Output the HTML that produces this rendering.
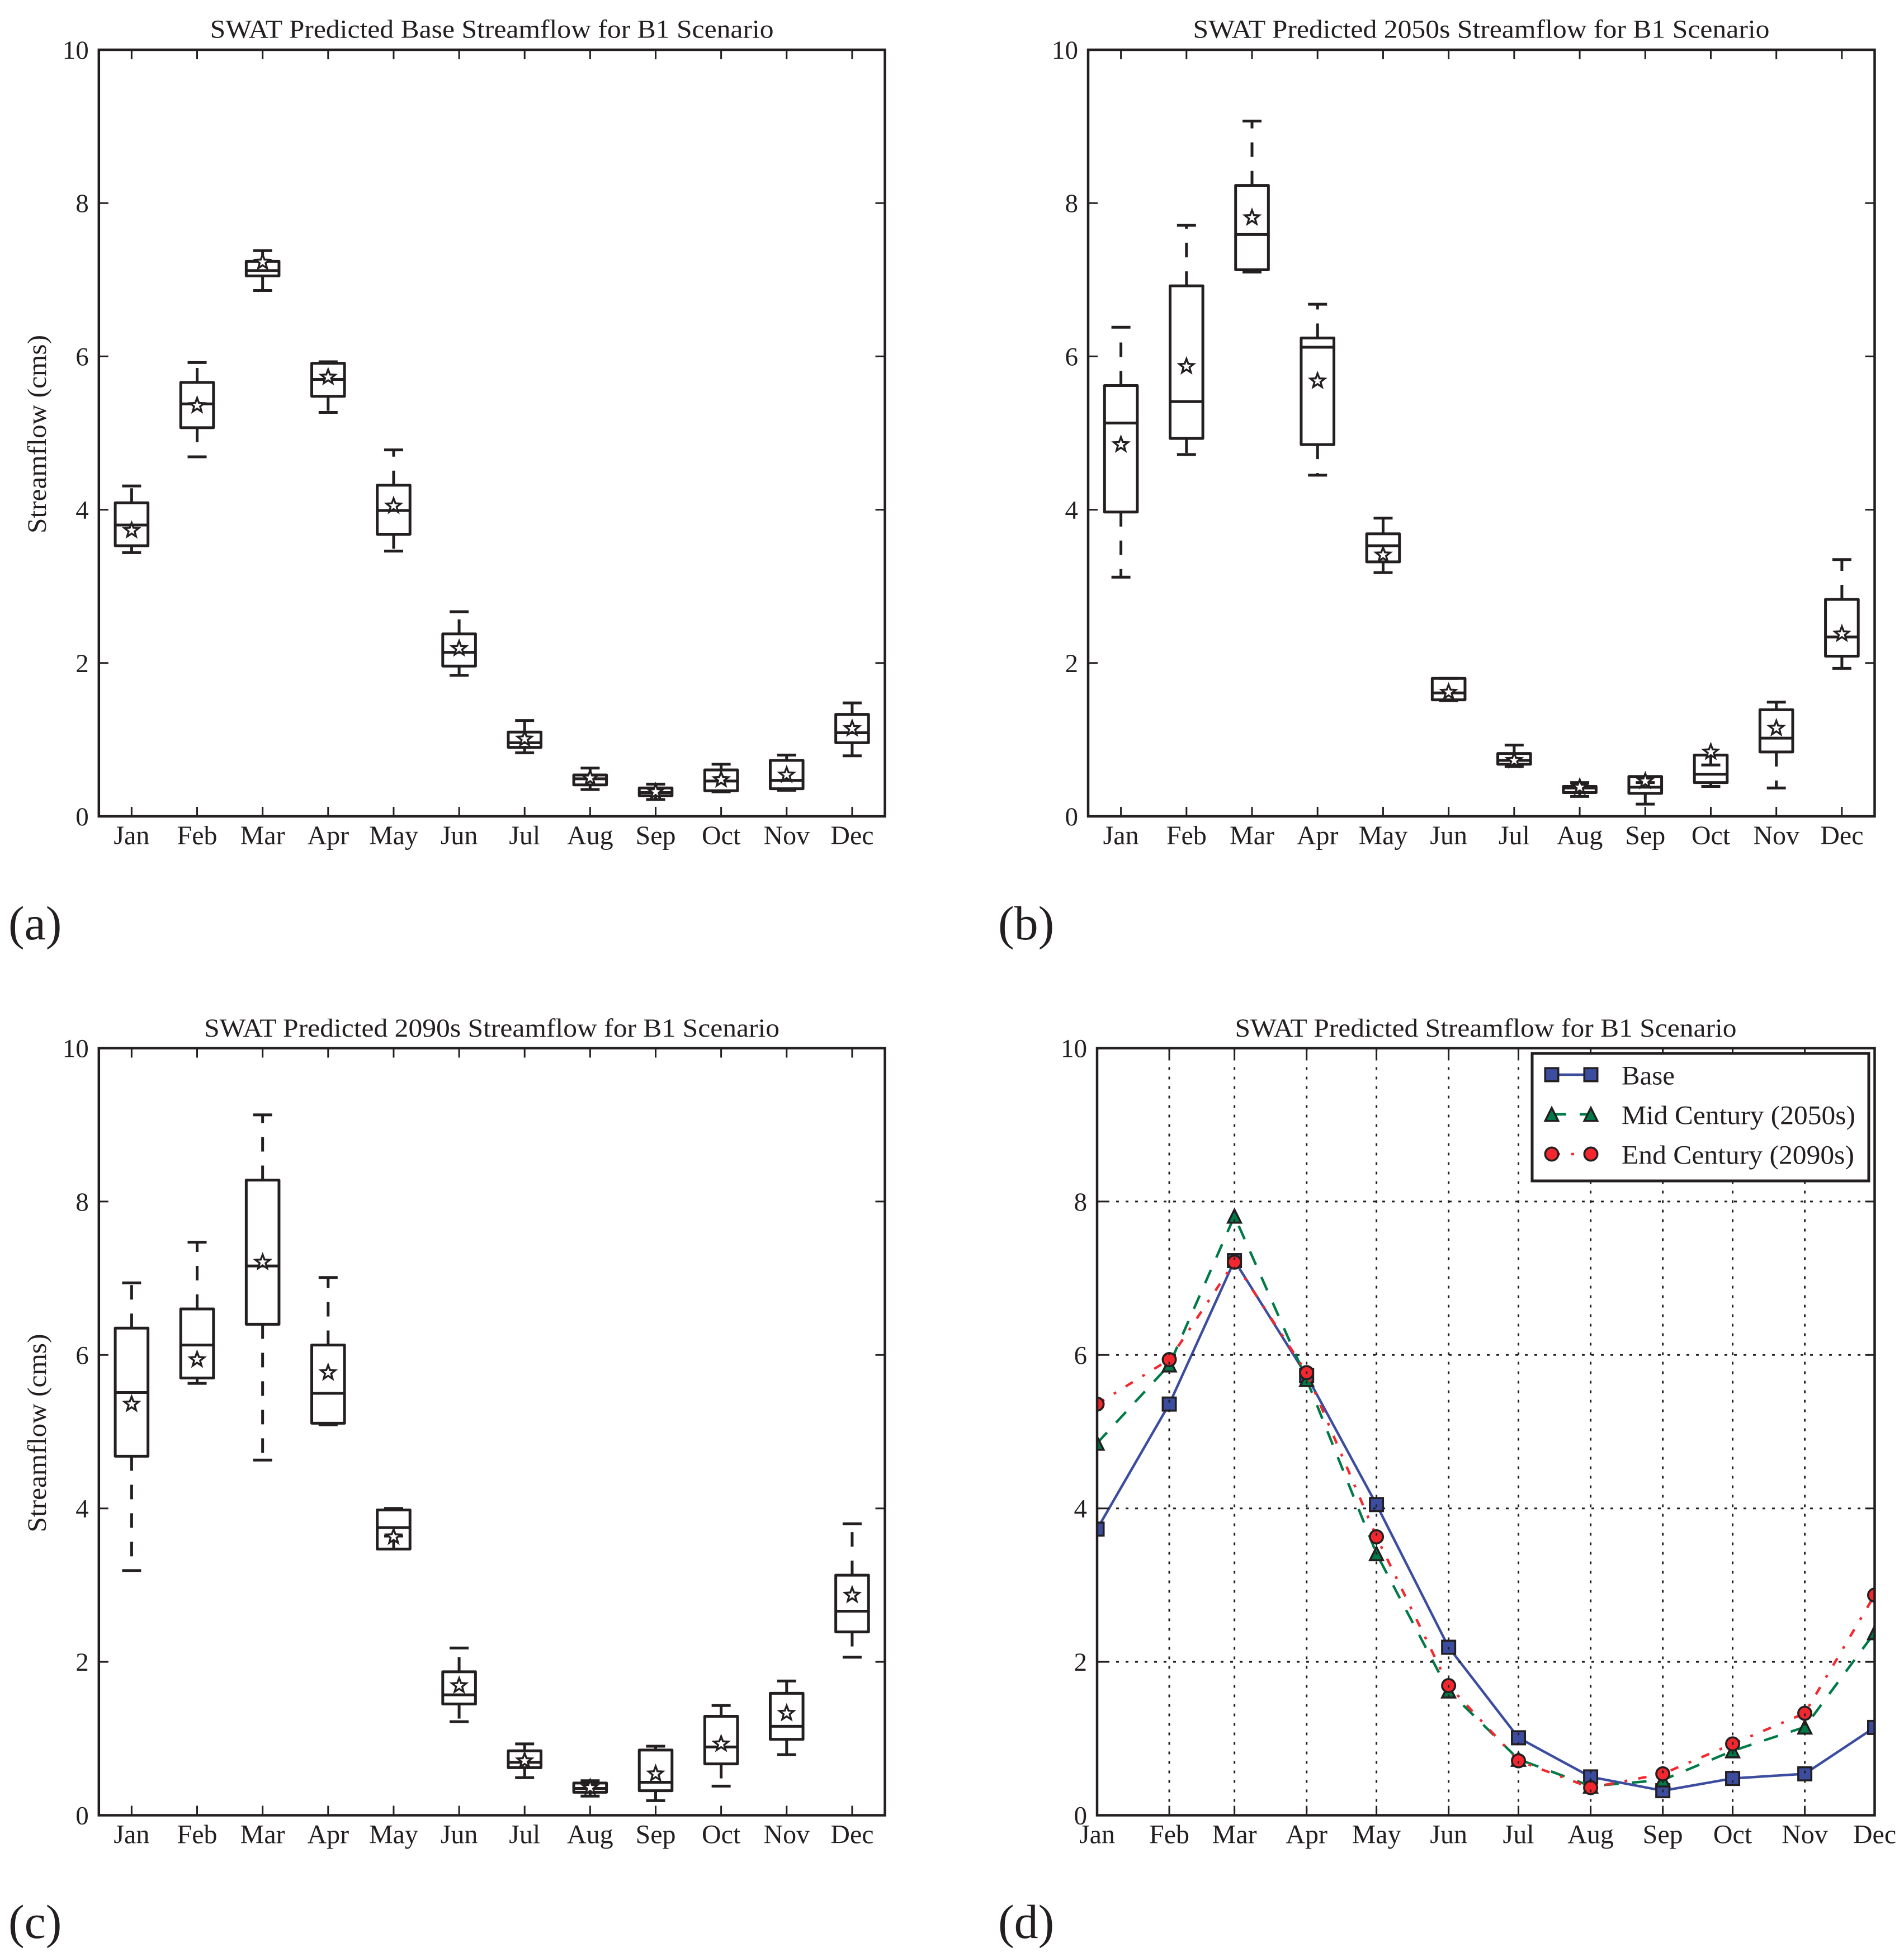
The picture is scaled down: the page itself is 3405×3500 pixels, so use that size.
<!DOCTYPE html>
<html lang="en">
<head>
<meta charset="utf-8">
<title>SWAT Predicted Streamflow for B1 Scenario</title>
<style>
  html, body { margin: 0; padding: 0; background: #fff; }
  svg { display: block; }
  text { font-family: "Liberation Serif", serif; fill: #231f20; }
  .title, .month, .ytick, .ylabel, .leg { font-size: 48px; }
  .ytick { font-size: 47px; text-anchor: end; }
  .month { text-anchor: middle; }
  .title { text-anchor: middle; font-size: 47px; }
  .ylabel { text-anchor: middle; }
  .tag { font-size: 86px; }
</style>
</head>
<body>
<svg id="figure" xmlns="http://www.w3.org/2000/svg" width="3405" height="3500" viewBox="0 0 3405 3500">
  <rect width="3405" height="3500" fill="#fff"/>
  <defs>
    <clipPath id="clip-d"><rect x="1962" y="1874.5" width="1390.5" height="1372"/></clipPath>
  </defs>

  <g id="panel-a">
    <text class="title" x="879.6" y="67.7" textLength="1008" lengthAdjust="spacingAndGlyphs">SWAT Predicted Base Streamflow for B1 Scenario</text>
    <text class="ylabel" transform="translate(82,776.5) rotate(-90)" textLength="355" lengthAdjust="spacingAndGlyphs">Streamflow (cms)</text>
    <text class="tag" x="15" y="1680">(a)</text>
  </g>
  <g id="panel-b">
    <text class="title" x="2649" y="67.7" textLength="1031" lengthAdjust="spacingAndGlyphs">SWAT Predicted 2050s Streamflow for B1 Scenario</text>
    <text class="tag" x="1785" y="1680">(b)</text>
  </g>
  <g id="panel-c">
    <text class="title" x="879.6" y="1854" textLength="1029" lengthAdjust="spacingAndGlyphs">SWAT Predicted 2090s Streamflow for B1 Scenario</text>
    <text class="ylabel" transform="translate(82,2563) rotate(-90)" textLength="355" lengthAdjust="spacingAndGlyphs">Streamflow (cms)</text>
    <text class="tag" x="15" y="3466">(c)</text>
  </g>
  <g id="panel-d">
    <text class="title" x="2657" y="1854" textLength="897" lengthAdjust="spacingAndGlyphs">SWAT Predicted Streamflow for B1 Scenario</text>
    <text class="tag" x="1785" y="3466">(d)</text>
  </g>
</svg>

<script>
// ---------- chart values ----------
const months = ['Jan','Feb','Mar','Apr','May','Jun','Jul','Aug','Sep','Oct','Nov','Dec'];
const yTicks = [0, 2, 4, 6, 8, 10];

// Panel (a) base period
const aLow  = [3.44,4.69,6.86,5.27,3.46,1.84,0.83,0.35,0.22,0.32,0.34,0.79];
const aQ1   = [3.53,5.07,7.05,5.48,3.68,1.96,0.90,0.41,0.27,0.335,0.36,0.96];
const aMed  = [3.80,5.38,7.12,5.70,3.99,2.14,0.96,0.49,0.31,0.46,0.47,1.09];
const aQ3   = [4.09,5.66,7.24,5.91,4.32,2.38,1.10,0.54,0.37,0.605,0.73,1.33];
const aHigh = [4.31,5.92,7.38,5.93,4.78,2.67,1.25,0.63,0.42,0.68,0.80,1.48];
const aMean = [3.73,5.36,7.23,5.73,4.05,2.19,1.01,0.50,0.32,0.48,0.54,1.145];

// Panel (b) 2050s
const bLow  = [3.12,4.72,7.10,4.45,3.18,1.51,0.65,0.26,0.16,0.39,0.37,1.93];
const bQ1   = [3.97,4.93,7.13,4.85,3.32,1.52,0.68,0.31,0.30,0.44,0.84,2.09];
const bMed  = [5.13,5.41,7.59,6.12,3.53,1.61,0.73,0.37,0.38,0.55,1.02,2.34];
const bQ3   = [5.62,6.92,8.23,6.24,3.685,1.80,0.82,0.39,0.52,0.80,1.39,2.83];
const bHigh = [6.38,7.71,9.07,6.68,3.89,1.80,0.93,0.44,0.44,0.67,1.49,3.35];
const bMean = [4.85,5.87,7.81,5.68,3.41,1.62,0.73,0.38,0.46,0.84,1.15,2.38];

// Panel (c) 2090s
const cLow  = [3.19,5.63,4.63,5.09,3.64,1.22,0.49,0.25,0.19,0.38,0.79,2.06];
const cQ1   = [4.68,5.70,6.40,5.11,3.47,1.45,0.62,0.30,0.32,0.67,0.99,2.39];
const cMed  = [5.51,6.13,7.16,5.50,3.75,1.57,0.69,0.35,0.43,0.89,1.16,2.66];
const cQ3   = [6.35,6.60,8.28,6.13,3.98,1.87,0.84,0.42,0.85,1.29,1.59,3.13];
const cHigh = [6.94,7.47,9.13,7.01,4.00,2.18,0.93,0.45,0.90,1.43,1.75,3.80];
const cMean = [5.36,5.94,7.21,5.77,3.63,1.69,0.71,0.36,0.54,0.93,1.33,2.87];

// Panel (d) monthly lines on a day-of-year x axis
const monthDays = [0,31,59,90,120,151,181,212,243,273,304,334];
const baseFlow = [3.73,5.36,7.23,5.73,4.05,2.19,1.01,0.50,0.32,0.48,0.54,1.145];
const midFlow  = [4.85,5.87,7.81,5.68,3.41,1.62,0.73,0.38,0.46,0.84,1.15,2.38];
const endFlow  = [5.36,5.94,7.21,5.77,3.63,1.69,0.71,0.36,0.54,0.93,1.33,2.87];

// Legend text
const legendLabels = ['Base', 'Mid Century (2050s)', 'End Century (2090s)'];

// ---------- helpers ----------
const INK = '#231f20';
const BLUE = '#3c4d9f';
const GREEN = '#007a47';
const RED = '#f4272f';
const NS = 'http://www.w3.org/2000/svg';
const SPINE = 4.5;
const TICK = 15;

function svgEl(tag, attrs, parent) {
  const node = document.createElementNS(NS, tag);
  for (const k in attrs) node.setAttribute(k, attrs[k]);
  parent.appendChild(node);
  return node;
}
function makeY(frame) {
  return v => frame.bottom - v * (frame.bottom - frame.top) / 10;
}
function starPoints(cx, cy, r) {
  const pts = [];
  for (let k = 0; k < 10; k++) {
    const rad = k % 2 ? r * 0.42 : r;
    const ang = -Math.PI / 2 + k * Math.PI / 5;
    pts.push((cx + rad * Math.cos(ang)).toFixed(1) + ',' + (cy + rad * Math.sin(ang)).toFixed(1));
  }
  return pts.join(' ');
}

function drawFrame(parent, frame, xPos, prefix) {
  const y = makeY(frame);
  months.forEach((m, i) => {
    const x = xPos(i);
    const tb = svgEl('line', {x1: x, x2: x, y1: frame.bottom, y2: frame.bottom - TICK - 2, stroke: INK, 'stroke-width': 3}, parent);
    
    
    const tt = svgEl('line', {x1: x, x2: x, y1: frame.top, y2: frame.top + TICK + 2, stroke: INK, 'stroke-width': 3}, parent);
    
    
    const lab = svgEl('text', {class: 'month', x: x, y: frame.bottom + 50}, parent);
    lab.textContent = m;
    
    
  });
  yTicks.forEach(v => {
    const py = y(v);
    const tl = svgEl('line', {x1: frame.left, x2: frame.left + TICK + 2, y1: py, y2: py, stroke: INK, 'stroke-width': 3}, parent);
    
    
    const tr = svgEl('line', {x1: frame.right, x2: frame.right - TICK - 2, y1: py, y2: py, stroke: INK, 'stroke-width': 3}, parent);
    
    
    const lab = svgEl('text', {class: 'ytick', x: frame.left - 18, y: py + 16}, parent);
    lab.textContent = String(v);
    
    
  });
}
function drawSpines(parent, frame, prefix) {
  const r = svgEl('rect', {x: frame.left, y: frame.top, width: frame.right - frame.left, height: frame.bottom - frame.top, fill: 'none', stroke: INK, 'stroke-width': SPINE}, parent);
  
  
}

function drawBoxes(parent, frame, low, q1, med, q3, high, mean, prefix) {
  const y = makeY(frame);
  const step = (frame.right - frame.left) / months.length;
  const xPos = i => frame.left + step * (i + 0.5);
  drawFrame(parent, frame, xPos, prefix);
  months.forEach((m, i) => {
    const x = xPos(i);
    const key = prefix + '-' + m.toLowerCase();
    const box = svgEl('rect', {x: x - step / 4, y: y(q3[i]), width: step / 2, height: y(q1[i]) - y(q3[i]), fill: 'none', stroke: INK, 'stroke-width': 5, 'stroke-linejoin': 'round'}, parent);
    
    
    const wu = svgEl('line', {x1: x, x2: x, y1: y(q3[i]), y2: y(high[i]), stroke: INK, 'stroke-width': 5, 'stroke-dasharray': '26 25'}, parent);
    
    
    const wl = svgEl('line', {x1: x, x2: x, y1: y(q1[i]), y2: y(low[i]), stroke: INK, 'stroke-width': 5, 'stroke-dasharray': '26 25'}, parent);
    
    
    const cu = svgEl('line', {x1: x - 17, x2: x + 17, y1: y(high[i]), y2: y(high[i]), stroke: INK, 'stroke-width': 5}, parent);
    
    
    const cl = svgEl('line', {x1: x - 17, x2: x + 17, y1: y(low[i]), y2: y(low[i]), stroke: INK, 'stroke-width': 5}, parent);
    
    
    const md = svgEl('line', {x1: x - step / 4, x2: x + step / 4, y1: y(med[i]), y2: y(med[i]), stroke: INK, 'stroke-width': 5}, parent);
    
    
    const st = svgEl('polygon', {points: starPoints(x, y(mean[i]), 13.5), fill: '#fff', stroke: INK, 'stroke-width': 3.4, 'stroke-linejoin': 'miter'}, parent);
    
    
  });
  drawSpines(parent, frame, prefix);
}

function drawMarker(parent, kind, x, y, fill) {
  if (kind === 'square') {
    return svgEl('rect', {x: x - 11.7, y: y - 11.7, width: 23.4, height: 23.4, fill: fill, stroke: INK, 'stroke-width': 3.6}, parent);
  }
  if (kind === 'triangle') {
    return svgEl('polygon', {points: x + ',' + (y - 11.7) + ' ' + (x + 11.7) + ',' + (y + 11.7) + ' ' + (x - 11.7) + ',' + (y + 11.7), fill: fill, stroke: INK, 'stroke-width': 3.6, 'stroke-linejoin': 'miter'}, parent);
  }
  return svgEl('circle', {cx: x, cy: y, r: 11.7, fill: fill, stroke: INK, 'stroke-width': 3.6}, parent);
}

function drawLegend(parent, seriesList) {
  const lg = svgEl('g', {}, parent);
  
  
  const bg = svgEl('rect', {x: 2740, y: 1884, width: 602, height: 228, fill: '#fff', stroke: INK, 'stroke-width': 5}, lg);
  
  
  seriesList.forEach((s, i) => {
    const ry = 1922 + i * 71;
    const ln = svgEl('line', {x1: 2775, x2: 2845, y1: ry, y2: ry, stroke: s.color, 'stroke-width': 4.5, 'stroke-dasharray': s.dash}, lg);
    
    
    const m1 = drawMarker(lg, s.marker, 2775, ry, s.color);
    
    
    const m2 = drawMarker(lg, s.marker, 2845, ry, s.color);
    
    
    const t = svgEl('text', {class: 'leg', x: 2900, y: ry + 17.5}, lg);
    t.textContent = legendLabels[i];
    t.setAttribute('textLength', s.labelWidth);
    t.setAttribute('lengthAdjust', 'spacingAndGlyphs');
    
    
  });
}

function drawLinePanel(parent, frame) {
  const y = makeY(frame);
  const xDay = d => frame.left + d * (frame.right - frame.left) / monthDays[monthDays.length - 1];
  const xPos = i => xDay(monthDays[i]);

  const clip = svgEl('g', {'clip-path': 'url(#clip-d)'}, parent);
  
  

  const seriesList = [
    {name: 'base', vals: baseFlow, color: BLUE, dash: 'none', marker: 'square', labelWidth: 95},
    {name: 'mid-century', vals: midFlow, color: GREEN, dash: '26 24', marker: 'triangle', labelWidth: 418},
    {name: 'end-century', vals: endFlow, color: RED, dash: '15 20 5 20', marker: 'circle', labelWidth: 416}
  ];
  seriesList.forEach(s => {
    const pts = s.vals.map((v, i) => xPos(i).toFixed(1) + ',' + y(v).toFixed(1)).join(' ');
    const line = svgEl('polyline', {points: pts, fill: 'none', stroke: s.color, 'stroke-width': 4.5, 'stroke-dasharray': s.dash, 'stroke-linejoin': 'round'}, clip);
    
    
    s.vals.forEach((v, i) => {
      const mk = drawMarker(clip, s.marker, xPos(i), y(v), s.color);
      
      
    });
  });

  // dotted grid sits above the series
  months.forEach((m, i) => {
    if (i === 0 || i === months.length - 1) return;
    const x = xPos(i);
    const g = svgEl('line', {x1: x, x2: x, y1: frame.top, y2: frame.bottom, stroke: INK, 'stroke-width': 3, 'stroke-dasharray': '5 12'}, parent);
    
    
  });
  yTicks.forEach(v => {
    if (v === 0 || v === 10) return;
    const g = svgEl('line', {x1: frame.left, x2: frame.right, y1: y(v), y2: y(v), stroke: INK, 'stroke-width': 3, 'stroke-dasharray': '5 12'}, parent);
    
    
  });

  drawFrame(parent, frame, xPos, 'panel-d');
  drawSpines(parent, frame, 'panel-d');
  drawLegend(parent, seriesList);
}

// ---------- layout ----------
const frameA = {left: 176.8, right: 1582.5, top: 89, bottom: 1460};
const frameB = {left: 1946, right: 3352.5, top: 89, bottom: 1460};
const frameC = {left: 176.8, right: 1582.5, top: 1874.5, bottom: 3246.5};
const frameD = {left: 1962, right: 3352.5, top: 1874.5, bottom: 3246.5};

drawBoxes(document.getElementById('panel-a'), frameA, aLow, aQ1, aMed, aQ3, aHigh, aMean, 'panel-a');
drawBoxes(document.getElementById('panel-b'), frameB, bLow, bQ1, bMed, bQ3, bHigh, bMean, 'panel-b');
drawBoxes(document.getElementById('panel-c'), frameC, cLow, cQ1, cMed, cQ3, cHigh, cMean, 'panel-c');
drawLinePanel(document.getElementById('panel-d'), frameD);
</script>
</body>
</html>
